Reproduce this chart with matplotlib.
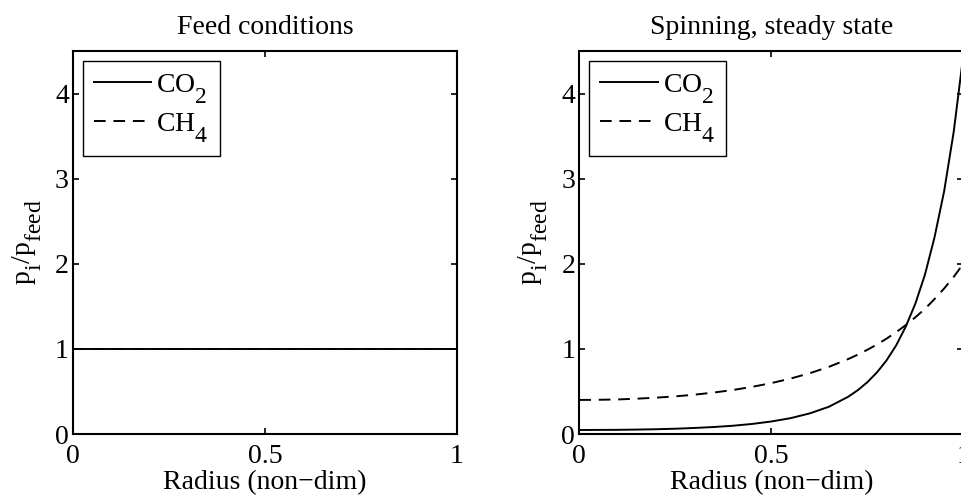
import numpy as np
import matplotlib
matplotlib.use('Agg')
import matplotlib.pyplot as plt
import matplotlib._mathtext as mathtext_internals

plt.rcParams['font.family'] = ['Liberation Serif', 'DejaVu Serif']
plt.rcParams['mathtext.fontset'] = 'custom'
plt.rcParams['mathtext.rm'] = 'Liberation Serif'
plt.rcParams['mathtext.it'] = 'Liberation Serif:italic'
plt.rcParams['font.size'] = 20
# larger, lower subscripts, like the TeX interpreter of the original tool
mathtext_internals.SHRINK_FACTOR = 0.85
mathtext_internals.FontConstantsBase.sub1 = 0.9

# feed: uniform partial pressure ratio
feed_r = [0.0, 1.0]
feed_co2 = [1.0, 1.0]
feed_ch4 = [1.0, 1.0]

# spinning, steady state
spin_r = [0.0, 0.05, 0.1, 0.15, 0.2, 0.25, 0.3, 0.35, 0.4, 0.45, 0.5, 0.55,
          0.6, 0.65, 0.7, 0.725, 0.75, 0.775, 0.8, 0.825, 0.85, 0.875, 0.9,
          0.925, 0.95, 0.975, 1.0]
spin_co2 = [0.047, 0.048, 0.049, 0.052, 0.056, 0.062, 0.071, 0.082, 0.097,
            0.118, 0.147, 0.186, 0.242, 0.32, 0.437, 0.514, 0.608, 0.723,
            0.864, 1.04, 1.26, 1.53, 1.87, 2.31, 2.85, 3.55, 4.45]
spin_ch4 = [0.40, 0.402, 0.406, 0.415, 0.427, 0.442, 0.462, 0.487, 0.517,
            0.554, 0.598, 0.651, 0.714, 0.789, 0.880, 0.932, 0.989, 1.051,
            1.12, 1.196, 1.279, 1.371, 1.47, 1.585, 1.709, 1.846, 2.0]

fig = plt.figure(figsize=(9.62, 4.98), dpi=100)
W, H = 962.0, 498.0
ax1 = fig.add_axes([73 / W, 64 / H, 384 / W, 383 / H])
ax2 = fig.add_axes([579.3 / W, 64 / H, 384 / W, 383 / H])

panels = [(ax1, 'Feed conditions', feed_r, feed_co2, feed_ch4),
          (ax2, 'Spinning, steady state', spin_r, spin_co2, spin_ch4)]

for ax, title, r, co2, ch4 in panels:
    ax.plot(r, co2, 'k-', lw=1.4, label=r'CO$_\mathrm{2}$')
    ax.plot(r, ch4, 'k--', lw=1.4, dashes=(6, 4), label=r'CH$_\mathrm{4}$')
    ax.set_xlim(0, 1)
    ax.set_ylim(0, 4.5)
    ax.set_xticks([0, 0.5, 1])
    ax.set_xticklabels(['0', '0.5', '1'])
    ax.set_yticks([0, 1, 2, 3, 4])
    ax.tick_params(direction='in', top=True, right=True, length=4, width=1.2,
                   labelsize=20)
    ax.tick_params(axis='x', pad=7)
    ax.tick_params(axis='y', pad=3)
    for s in ax.spines.values():
        s.set_linewidth(1.5)
    ax.set_title(title, fontsize=20, pad=12)
    ax.set_xlabel('Radius (non\u2212dim)', fontsize=20, labelpad=1)
    ax.set_ylabel(r'$\mathrm{p_i/p_{feed}}$', fontsize=20, labelpad=8)
    leg = ax.legend(loc='upper left', fancybox=False, edgecolor='k',
                    framealpha=1, handlelength=2.07, handletextpad=0.18,
                    borderaxespad=0.35, borderpad=0.4, labelspacing=0.2)
    leg.get_frame().set_linewidth(1.0)

fig.savefig('out.png', dpi=100)
